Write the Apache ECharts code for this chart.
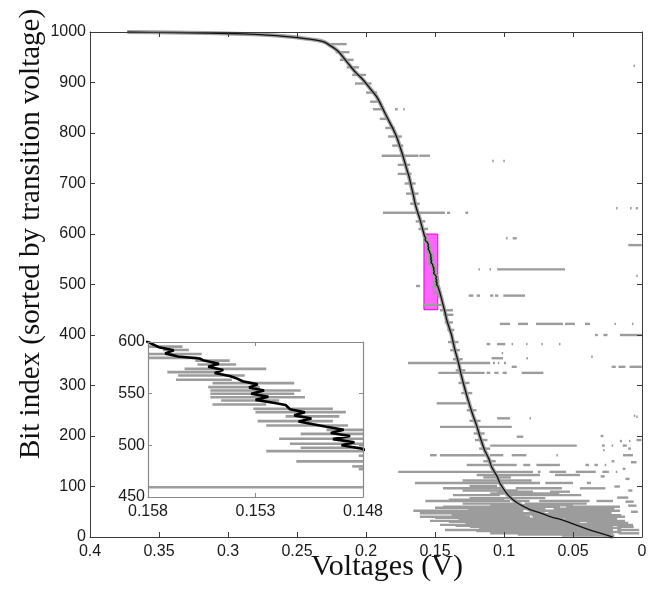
<!DOCTYPE html>
<html><head><meta charset="utf-8">
<script src="https://cdn.jsdelivr.net/npm/echarts@6/dist/echarts.min.js"></script>
<style>html,body{margin:0;padding:0;background:#fff}#c{width:661px;height:590px}</style>
</head><body><div id="c"></div>
<script>
// ---------- DATA ----------
// sorted transition voltage curve (bit index -> voltage)
const curveIdx = [0,4,9,14,20,28,34,40,47,53,58,62,67,73,80,90,98,107,120,139,155,172,195,222,245,271,295,321,345,370,385,400,415,430,440,450,460,469,477,485,491,
  497,500,503,506,509,512,515,518,520,523,526,529,532,535,539,541,544,547,550,553,556,559,562,565,567,570,573,576,579,582,584,586,589,592,595,599,
  615,630,645,661,675,690,713,727,740,757,773,790,806,822,839,855,872,888,905,920,938,950,960,967,974,980,984,987,990,993,995,997,998,999,1000];
const curveV = [0.021,0.026,0.032,0.038,0.044,0.052,0.058,0.066,0.073,0.080,0.084,0.087,0.090,0.093,0.096,0.099,0.101,0.103,0.105,0.109,0.111,0.114,0.117,0.120,0.123,0.126,0.1285,0.131,0.133,0.1355,0.1368,0.138,0.1398,0.1415,0.1423,0.1432,0.1442,0.145,0.1458,0.1466,0.1473,
  0.1481,0.1490,0.1484,0.1494,0.1486,0.1495,0.1489,0.1497,0.1502,0.1510,0.1504,0.1512,0.1507,0.1514,0.1516,0.1521,0.1530,0.1524,0.1532,0.1526,0.1533,0.1529,0.1536,0.1539,0.1542,0.1549,0.1545,0.1552,0.1547,0.1554,0.1556,0.1566,0.1572,0.1568,0.1575,0.1579,
  0.1595,0.161,0.1628,0.1645,0.1655,0.1668,0.1688,0.1703,0.1717,0.1735,0.1754,0.1775,0.180,0.183,0.1862,0.189,0.1923,0.197,0.202,0.2075,0.213,0.2165,0.2195,0.2225,0.2265,0.230,0.236,0.244,0.253,0.265,0.277,0.300,0.315,0.340,0.373];

// gray segments: [bit index, voltage from, voltage to]
const segsUpper = [
  [976,0.228,0.214],[960,0.222,0.212],[945,0.219,0.209],[930,0.214,0.205],[915,0.210,0.200],[898,0.208,0.196],
  [880,0.200,0.192],[862,0.197,0.189],[847,0.195,0.187],[847,0.179,0.177],[847,0.173,0.1725],[828,0.190,0.184],
  [810,0.186,0.179],[793,0.184,0.174],[775,0.181,0.173],[755,0.1886,0.162],[755,0.1614,0.1536],[737,0.177,0.168],
  [719,0.177,0.167],[700,0.172,0.164],[680,0.171,0.162],[660,0.168,0.161],[642,0.1877,0.1428],[642,0.1413,0.139],
  [642,0.128,0.126],[625,0.164,0.157],[610,0.162,0.155],
  [933,0.0062,0.0054],[744.6,0.1085,0.1075],[744.6,0.1005,0.0995],[651,0.0188,0.018],[651,0.0087,0.0075],[651,0.0045,0.003],
  [591.5,0.0985,0.0975],[591.5,0.0937,0.0908],[578,0.010,0.0002],[530,0.1185,0.1175],[530,0.1105,0.1095],[530,0.105,0.0558],
  [517,0.0042,0.0036],[497,0.1638,0.1609],
  [478,0.1256,0.1222],[478,0.1198,0.1174],[478,0.1101,0.1077],[478,0.1065,0.1041],[478,0.1005,0.0848]
];
const segsInset = [
  [595.5,0.1580,0.1564],[592.3,0.1573,0.1561],[588.4,0.1580,0.1555],[584.6,0.1580,0.1557],[582,0.1558,0.1542],
  [578.2,0.1557,0.1539],[574,0.1563,0.1525],[570.8,0.1571,0.1546],[567.6,0.1566,0.1535],[563.4,0.1567,0.1541],
  [560.2,0.1550,0.1512],[556.3,0.1552,0.1528],[553.1,0.1551,0.1509],[549.9,0.1551,0.1512],[546.6,0.1551,0.1507],
  [543.4,0.1546,0.1519],[539.5,0.1550,0.1525],[535.4,0.1531,0.1494],[532.1,0.1530,0.1488],[528,0.1516,0.1491],
  [523.4,0.1529,0.1494],[519.2,0.1525,0.1487],[515,0.1497,0.1472],[511.1,0.1509,0.1470],[506.3,0.1519,0.1468],
  [501.5,0.1514,0.1470],[497.6,0.1509,0.1465],[494.4,0.1525,0.1462],[490,0.1482,0.1460],[484.5,0.1511,0.1455],
  [479.6,0.1485,0.1450],[477,0.1482,0.1450],[459.5,0.1585,0.1455]
];
const segsMiddle = [
  [449,0.1464,0.137],[440,0.144,0.1367],[425,0.143,0.137],[410,0.141,0.136],[386,0.1406,0.133],[370,0.139,0.132],
  [352,0.137,0.130],[330,0.135,0.128],[305,0.133,0.125],[285,0.131,0.123],[251,0.127,0.120],[230,0.125,0.117],
  [205,0.122,0.114],[192,0.121,0.112],[175,0.118,0.110],[150,0.115,0.106],
  [422,0.103,0.0957],[422,0.0899,0.0826],[422,0.0768,0.0572],[422,0.0558,0.0486],[422,0.0413,0.0377],[422,0.0200,0.0192],[422,0.0073,0.0065],
  [400,0.034,0.032],[400,0.028,0.025],[400,0.016,0.0002],
  [382,0.1126,0.110],[382,0.105,0.099],[382,0.0945,0.0937],[382,0.0840,0.0832],[382,0.0730,0.0722],[382,0.0602,0.0595],
  [364,0.1017,0.1010],[357,0.0368,0.0362],[354,0.109,0.1007],[354,0.0838,0.083],
  [344.6,0.1696,0.110],[344.6,0.108,0.1065],[344.6,0.1045,0.1035],[344.6,0.1000,0.0985],
  [337,0.0944,0.0908],[337,0.022,0.019],[337,0.017,0.012],[337,0.009,0.0002],
  [325,0.1476,0.114],[325,0.1126,0.1100],[325,0.107,0.104],[325,0.101,0.098],[325,0.0872,0.0715],
  [264.7,0.1488,0.127],[240,0.006,0.0055],[238,0.0042,0.0036],[235,0.105,0.0957],[235,0.0815,0.0808],
  [218,0.1464,0.0944],[198.6,0.0908,0.086],[192,0.004,0.0005],[190,0.016,0.0145],[190,0.0095,0.0085],
  [181,0.110,0.0473],[181,0.029,0.027],[181,0.022,0.0215],[181,0.014,0.011],[172,0.0282,0.0276]
];
const segsLower = [
  [162,0.1536,0.1488],[162,0.1464,0.1126],[162,0.1101,0.1005],[162,0.0944,0.0838],[162,0.062,0.0612],[162,0.0138,0.0065],
  [142.6,0.127,0.110],[142.6,0.108,0.0908],[142.6,0.0860,0.0810],[142.6,0.0765,0.0595],[142.6,0.041,0.0385],[142.6,0.0345,0.032],[142.6,0.027,0.0265],
  [129,0.1766,0.079],[129,0.0755,0.0735],[129,0.0670,0.0550],[129,0.0480,0.0335],[129,0.0287,0.0240],[129,0.019,0.0185],
  [122.8,0.1198,0.0739],[122.8,0.063,0.045],
  [107,0.1645,0.0739],[107,0.0700,0.0500],[107,0.040,0.037],
  [96.4,0.1442,0.1005],[96.4,0.0915,0.0580],[96.4,0.0450,0.0265],
  [89.7,0.105,0.079],[89.7,0.0667,0.0522],[83,0.1370,0.1030],[83,0.0990,0.0440],
  [71.3,0.157,0.0957],[71.3,0.0935,0.0815],[71.3,0.0745,0.0380],[71.3,0.0330,0.0210],
  [66,0.130,0.090],[66,0.085,0.040],[60,0.1442,0.0594],[60,0.0550,0.0160],[56,0.126,0.070],[56,0.064,0.020],
  [52,0.1657,0.086],[52,0.0815,0.0160],[47,0.161,0.0717],[47,0.068,0.022],[43,0.138,0.085],[43,0.080,0.015],
  [40,0.1609,0.0812],[40,0.079,0.0123],[36,0.133,0.060],[36,0.056,0.018],[32,0.1536,0.0572],[32,0.0572,0.0123],
  [28,0.128,0.045],[28,0.040,0.010],[24,0.1464,0.0328],[24,0.0328,0.0065],[20,0.1246,0.021],[20,0.018,0.006],
  [16,0.118,0.030],[13.9,0.1428,0.0210],[13.9,0.0180,0.0020],[10,0.108,0.015],[7.3,0.110,0.021],[7.3,0.017,0.002],[3,0.058,0.020],
  [118,0.115,0.095],[112,0.130,0.080],[101,0.125,0.105],[92,0.130,0.090],[86,0.110,0.060],[77,0.125,0.070],[74,0.140,0.100],
  [63,0.110,0.050],[58,0.150,0.110],[49,0.140,0.090],[45,0.120,0.030],[38,0.150,0.100],[34,0.110,0.025],[30,0.140,0.080],
  [26,0.100,0.020],[22,0.135,0.070],[18,0.090,0.015],[12,0.120,0.050],[5,0.090,0.025],
  [200,0.030,0.028],[175,0.010,0.008],[150,0.022,0.020],[148,0.008,0.004],[135,0.014,0.012],[120,0.030,0.027],
  [115,0.012,0.009],[100,0.020,0.016],[92,0.010,0.007],[78,0.018,0.010],[70,0.012,0.006],[62,0.010,0.004],[50,0.008,0.003]
];

// axes / ticks
const mainXRange = [0, 0.4], mainXStep = 0.05;
const mainYRange = [0, 1000], mainYStep = 100;
const zoomV = [0.148, 0.158];        // highlighted / inset voltage window
const zoomIdx = [450, 600];          // highlighted / inset bit window
const insetXTicks = [0.148, 0.153, 0.158];
const insetXInnerTicks = [0.153];
const insetYStep = 50;

const xTitle = 'Voltages (V)';
const yTitle = 'Bit index (sorted by transition voltage)';

// ---------- CHART ----------
const chart = echarts.init(document.getElementById('c'), null, {renderer: 'canvas'});
const curveData = curveV.map((v, k) => [v, curveIdx[k]]);
const allSegs = [].concat(segsUpper, segsInset, segsMiddle, segsLower);

function segRender(lw, color) {
  return function (params, api) {
    const cs = params.coordSys;
    const i = api.value(0), a = api.value(1), b = api.value(2);
    const p1 = api.coord([a, i]), p2 = api.coord([b, i]);
    const y = p1[1];
    if (y < cs.y - 1 || y > cs.y + cs.height + 1) return null;
    let x1 = Math.min(p1[0], p2[0]), x2 = Math.max(p1[0], p2[0]);
    x1 = Math.max(x1, cs.x); x2 = Math.min(x2, cs.x + cs.width);
    if (x2 < x1) return null;
    if (x2 - x1 < 1.5) { x2 = x1 + 1.5; }
    return {type: 'line', shape: {x1: x1, y1: y, x2: x2, y2: y},
      style: {stroke: color, lineWidth: lw}};
  };
}

const plainNum = v => String(+v.toFixed(4));
const labelFont = {fontFamily: '"Liberation Sans", Arial, sans-serif', fontSize: 16, color: '#1a1a1a', formatter: plainNum};
const mainLine = {show: true, onZero: false, lineStyle: {color: '#3a3a3a', width: 1}};
const insetLine = {show: true, onZero: false, lineStyle: {color: '#8a8a8a', width: 1.2}};
const mainTick = {inside: true, length: 5, lineStyle: {color: '#3a3a3a'}};
const insetTick = {inside: true, length: 4, lineStyle: {color: '#8a8a8a'}};

const option = {
  animation: false,
  backgroundColor: '#fff',
  grid: [
    {left: 90, top: 32, width: 552, height: 505, containLabel: false},
    {left: 148, top: 342, width: 215, height: 155, show: true, backgroundColor: '#fff', borderWidth: 0, z: 5}
  ],
  xAxis: [
    {gridIndex: 0, type: 'value', min: mainXRange[0], max: mainXRange[1], interval: mainXStep, inverse: true, position: 'bottom',
      axisLine: mainLine, axisTick: mainTick, z: 9,
      axisLabel: Object.assign({margin: 7}, labelFont), splitLine: {show: false}},
    {gridIndex: 0, type: 'value', min: mainXRange[0], max: mainXRange[1], interval: mainXStep, inverse: true, position: 'top',
      axisLine: mainLine, axisTick: mainTick, z: 9, axisLabel: {show: false}, splitLine: {show: false}},
    {gridIndex: 1, type: 'value', min: zoomV[0], max: zoomV[1], inverse: true, position: 'bottom', z: 9,
      axisLine: insetLine, axisTick: Object.assign({customValues: insetXInnerTicks}, insetTick),
      axisLabel: Object.assign({margin: 7, customValues: insetXTicks}, labelFont), splitLine: {show: false}},
    {gridIndex: 1, type: 'value', min: zoomV[0], max: zoomV[1], inverse: true, position: 'top', z: 9,
      axisLine: insetLine, axisTick: Object.assign({customValues: insetXInnerTicks}, insetTick),
      axisLabel: {show: false}, splitLine: {show: false}}
  ],
  yAxis: [
    {gridIndex: 0, type: 'value', min: mainYRange[0], max: mainYRange[1], interval: mainYStep, position: 'left', z: 9,
      axisLine: mainLine, axisTick: mainTick,
      axisLabel: Object.assign({margin: 4}, labelFont), splitLine: {show: false}},
    {gridIndex: 0, type: 'value', min: mainYRange[0], max: mainYRange[1], interval: mainYStep, position: 'right', z: 9,
      axisLine: mainLine, axisTick: mainTick, axisLabel: {show: false}, splitLine: {show: false}},
    {gridIndex: 1, type: 'value', min: zoomIdx[0], max: zoomIdx[1], interval: insetYStep, position: 'left', z: 9,
      axisLine: insetLine, axisTick: insetTick,
      axisLabel: Object.assign({margin: 3}, labelFont), splitLine: {show: false}},
    {gridIndex: 1, type: 'value', min: zoomIdx[0], max: zoomIdx[1], interval: insetYStep, position: 'right', z: 9,
      axisLine: insetLine, axisTick: insetTick, axisLabel: {show: false}, splitLine: {show: false}}
  ],
  graphic: [
    {type: 'text', x: 387, y: 567, z: 10,
      style: {text: xTitle, font: '30px "Liberation Serif", "Times New Roman", serif', fill: '#111', align: 'center', verticalAlign: 'middle'}},
    {type: 'text', x: 31, y: 234, rotation: Math.PI / 2, z: 10,
      style: {text: yTitle, font: '29px "Liberation Serif", "Times New Roman", serif', fill: '#111', align: 'center', verticalAlign: 'middle'}}
  ],
  series: [
    {type: 'line', xAxisIndex: 0, yAxisIndex: 0, data: [], z: 1, silent: true,
      markArea: {silent: true, itemStyle: {color: '#ff66ff', borderColor: '#e000e0', borderWidth: 1, opacity: 1},
        data: [[{coord: [zoomV[1], zoomIdx[0]]}, {coord: [zoomV[0], zoomIdx[1]]}]]}},
    {type: 'line', xAxisIndex: 0, yAxisIndex: 0, data: curveData, showSymbol: false, z: 2, silent: true, smooth: 0.3,
      lineStyle: {color: '#a3a3a3', width: 4}},
    {type: 'custom', xAxisIndex: 0, yAxisIndex: 0, data: allSegs, z: 3, silent: true,
      encode: {x: [1, 2], y: 0}, renderItem: segRender(2.4, '#9c9c9c')},
    {type: 'line', xAxisIndex: 0, yAxisIndex: 0, data: curveData, showSymbol: false, z: 4, silent: true, smooth: 0.3,
      lineStyle: {color: '#111', width: 1.3}},
    {type: 'custom', xAxisIndex: 2, yAxisIndex: 2, data: allSegs, z: 6, silent: true,
      encode: {x: [1, 2], y: 0}, renderItem: segRender(2.6, '#9c9c9c')},
    {type: 'line', xAxisIndex: 2, yAxisIndex: 2, data: curveData, showSymbol: false, z: 7, silent: true, clip: true,
      lineStyle: {color: '#000', width: 2.6}}
  ]
};
chart.setOption(option);
</script>
</body></html>
